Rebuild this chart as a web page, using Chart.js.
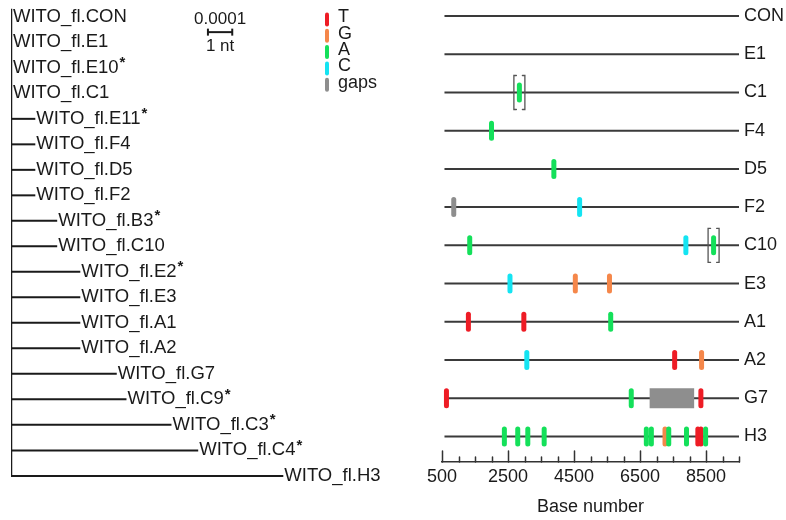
<!DOCTYPE html>
<html>
<head>
  <title>WITO fl. variants</title>
  <script src="https://cdn.jsdelivr.net/npm/chart.js"></script>
  <style>
    body { margin: 0; background: #fff; }
    #wrap { position: relative; width: 786px; height: 520px; }
    #tree { position: absolute; left: 0; top: 0; }
    #map { position: absolute; left: 400px; top: 0; }
  </style>
</head>
<body>
<div id="wrap">
  <canvas id="tree" width="400" height="520"></canvas>
  <canvas id="map" width="386" height="520"></canvas>
</div>
<script>
  // ---- tree (left) ----
  const taxa = ['CON', 'E1', 'E10', 'C1', 'E11', 'F4', 'D5', 'F2', 'B3', 'C10',
                'E2', 'E3', 'A1', 'A2', 'G7', 'C9', 'C3', 'C4', 'H3'];
  const branchLen = [0, 0, 0, 0, 1.0, 1.0, 1.0, 1.0, 1.9, 1.9,
                     2.85, 2.85, 2.85, 2.85, 4.35, 4.75, 6.6, 7.7, 11.2];
  const starred = ['E10', 'E11', 'B3', 'E2', 'C9', 'C3', 'C4'];
  const scaleBarStart = 8.1;   // scale bar = 1 nt (0.0001)

  // ---- mutation map (right) ----
  const seqRows = ['CON', 'E1', 'C1', 'F4', 'D5', 'F2', 'C10', 'E3', 'A1', 'A2', 'G7', 'H3'];
  const seqStart = 575, seqEnd = 9500;
  const axisTicks = [500, 2500, 4500, 6500, 8500];
  const bases = ['T', 'G', 'A', 'C', 'gaps'];
  const baseColors = ['#ee1c25', '#f5874a', '#14e05a', '#14e4f2', '#8e8e8e'];
  const mutT = [['A1', 1300], ['A1', 2980], ['A2', 7550], ['G7', 635], ['G7', 8345],
                ['H3', 8253], ['H3', 8345]];
  const mutG = [['E3', 4540], ['E3', 5575], ['A2', 8366], ['H3', 7258]];
  const mutA = [['C1', 2845], ['F4', 2000], ['D5', 3890], ['C10', 1340], ['C10', 8730],
                ['A1', 5612], ['G7', 6235], ['H3', 2390], ['H3', 2795], ['H3', 3100],
                ['H3', 3596], ['H3', 6692], ['H3', 6844], ['H3', 7371], ['H3', 7909], ['H3', 8488]];
  const mutC = [['F2', 4670], ['C10', 7890], ['E3', 2560], ['A2', 3070]];
  const gapSites = [['F2', 856]];
  const gapSpans = [['G7', 6792, 8141]];
  const bracketed = [['C1', 2845], ['C10', 8730]];

  const FONT = '"Liberation Sans", Arial, sans-serif';
  const INK = '#1a1a1a';

  // tree chart
  const treeSets = [{
    data: [{x: 0, y: -0.32}, {x: 0, y: taxa.length - 1}],
    borderColor: INK, borderWidth: 2.5
  }];
  taxa.forEach((t, i) => {
    if (branchLen[i] > 0) {
      treeSets.push({data: [{x: 0, y: i}, {x: branchLen[i], y: i}], borderColor: INK, borderWidth: 2});
    }
  });
  treeSets.push({
    data: [{x: scaleBarStart, y: 0.6}, {x: scaleBarStart + 1, y: 0.6}],
    borderColor: INK, borderWidth: 2,
    pointStyle: 'line', pointRotation: 90, pointRadius: 3.5, pointBorderWidth: 2, pointBorderColor: INK
  });

  const treeText = {
    id: 'treeText',
    afterDatasetsDraw(chart) {
      const {ctx, scales: {x, y}} = chart;
      ctx.save();
      ctx.fillStyle = INK;
      ctx.textBaseline = 'middle';
      taxa.forEach((t, i) => {
        const px = x.getPixelForValue(branchLen[i]) + (branchLen[i] > 0 ? 1 : 2);
        const py = y.getPixelForValue(i);
        const s = 'WITO_fl.' + t;
        ctx.font = '18.5px ' + FONT;
        ctx.textAlign = 'left';
        ctx.fillText(s, px, py);
        if (starred.includes(t)) {
          const w = ctx.measureText(s).width;
          ctx.font = 'bold 15px ' + FONT;
          ctx.fillText('*', px + w + 1, py - 5);
        }
      });
      // scale bar labels
      const cx = x.getPixelForValue(scaleBarStart + 0.5);
      const by = y.getPixelForValue(0.6);
      ctx.font = '17px ' + FONT;
      ctx.textAlign = 'center';
      ctx.fillText('0.0001', cx, by - 13);
      ctx.fillText('1 nt', cx, by + 14);
      // legend
      ctx.lineCap = 'round';
      bases.forEach((b, i) => {
        const my = 19.5 + 16.3 * i;
        ctx.strokeStyle = baseColors[i];
        ctx.lineWidth = 4;
        ctx.beginPath();
        ctx.moveTo(327, my - 5);
        ctx.lineTo(327, my + 5);
        ctx.stroke();
        ctx.font = '18px ' + FONT;
        ctx.textAlign = 'left';
        ctx.fillText(b, 338, my - 2);
      });
      ctx.restore();
    }
  };

  new Chart(document.getElementById('tree'), {
    type: 'scatter',
    data: {datasets: treeSets},
    options: {
      responsive: false, animation: false, events: [],
      showLine: true,
      elements: {point: {radius: 0}},
      layout: {autoPadding: false, padding: {left: 11, right: 0, top: 0, bottom: 0}},
      scales: {
        x: {type: 'linear', min: 0, max: 16, display: false},
        y: {type: 'linear', min: -0.66, max: 19.73, reverse: true, display: false}
      },
      plugins: {legend: {display: false}, tooltip: {enabled: false}}
    },
    plugins: [treeText]
  });

  // mutation map chart
  const rowOf = r => seqRows.indexOf(r);
  function marks(list, color) {
    return {
      data: list.map(([r, p]) => ({x: p, y: rowOf(r)})),
      showLine: false, order: 0, isMark: true,
      pointStyle: 'line', pointRotation: 90, pointRadius: 7.5, pointHoverRadius: 7.5,
      pointBorderWidth: 5, pointBorderColor: color, pointBackgroundColor: color
    };
  }
  const mapSets = [
    marks(mutC, baseColors[3]),
    marks(mutA, baseColors[2]),
    marks(mutG, baseColors[1]),
    marks(mutT, baseColors[0]),
    marks(gapSites, baseColors[4])
  ];
  gapSpans.forEach(([r, a, b]) => mapSets.push({
    data: [{x: a, y: rowOf(r)}, {x: b, y: rowOf(r)}],
    showLine: true, borderColor: baseColors[4], borderWidth: 20, borderCapStyle: 'butt',
    pointRadius: 0, order: 5
  }));
  seqRows.forEach((r, i) => mapSets.push({
    data: [{x: seqStart, y: i}, {x: seqEnd, y: i}],
    showLine: true, borderColor: '#3a3a3a', borderWidth: 2, pointRadius: 0, order: 10
  }));

  const mapExtras = {
    id: 'mapExtras',
    beforeDatasetDraw(chart, args) {
      if (args.meta._dataset && args.meta._dataset.isMark) chart.ctx.lineCap = 'round';
    },
    afterDraw(chart) {
      const {ctx, chartArea, scales: {x, y}} = chart;
      ctx.save();
      // brackets
      ctx.strokeStyle = '#555';
      ctx.lineWidth = 1.3;
      bracketed.forEach(([r, p]) => {
        const px = x.getPixelForValue(p), py = y.getPixelForValue(rowOf(r));
        [-1, 1].forEach(s => {
          const bx = px + s * 5.5;
          ctx.beginPath();
          ctx.moveTo(bx - s * 2.5, py - 17);
          ctx.lineTo(bx, py - 17);
          ctx.lineTo(bx, py + 17);
          ctx.lineTo(bx - s * 2.5, py + 17);
          ctx.stroke();
        });
      });
      // axis ticks pointing up
      ctx.strokeStyle = '#333';
      ctx.lineWidth = 1.5;
      const base = chartArea.bottom;
      x.ticks.forEach(t => {
        const px = Math.round(x.getPixelForValue(t.value)) + 0.5;
        const len = axisTicks.includes(t.value) ? 11 : 5;
        ctx.beginPath();
        ctx.moveTo(px, base);
        ctx.lineTo(px, base - len);
        ctx.stroke();
      });
      ctx.restore();
    }
  };

  new Chart(document.getElementById('map'), {
    type: 'scatter',
    data: {datasets: mapSets},
    options: {
      responsive: false, animation: false, events: [],
      layout: {autoPadding: false, padding: {left: 42, right: 0, top: 0, bottom: 0}},
      scales: {
        x: {
          type: 'linear', min: 500, max: 9500,
          grid: {display: false, drawTicks: false},
          border: {display: true, color: '#333', width: 1.5},
          ticks: {
            stepSize: 500, autoSkip: false, maxRotation: 0, padding: 4,
            color: INK, font: {family: FONT, size: 18},
            callback: v => axisTicks.includes(v) ? String(v) : ''
          },
          title: {display: true, text: 'Base number', color: INK,
                  font: {family: FONT, size: 18}, padding: {top: 0, bottom: 2}},
          afterFit: s => { s.height = 58; }
        },
        y: {
          type: 'linear', position: 'right', reverse: true, min: -0.42, max: 11.67,
          grid: {display: false, drawTicks: false},
          border: {display: false},
          afterBuildTicks: s => { s.ticks = seqRows.map((_, i) => ({value: i})); },
          ticks: {
            padding: 5, color: INK, font: {family: FONT, size: 18},
            callback: v => seqRows[v]
          },
          afterFit: s => { s.width = 47; s.paddingTop = 0; s.paddingBottom = 0; }
        }
      },
      plugins: {legend: {display: false}, tooltip: {enabled: false}}
    },
    plugins: [mapExtras]
  });
</script>
</body>
</html>
